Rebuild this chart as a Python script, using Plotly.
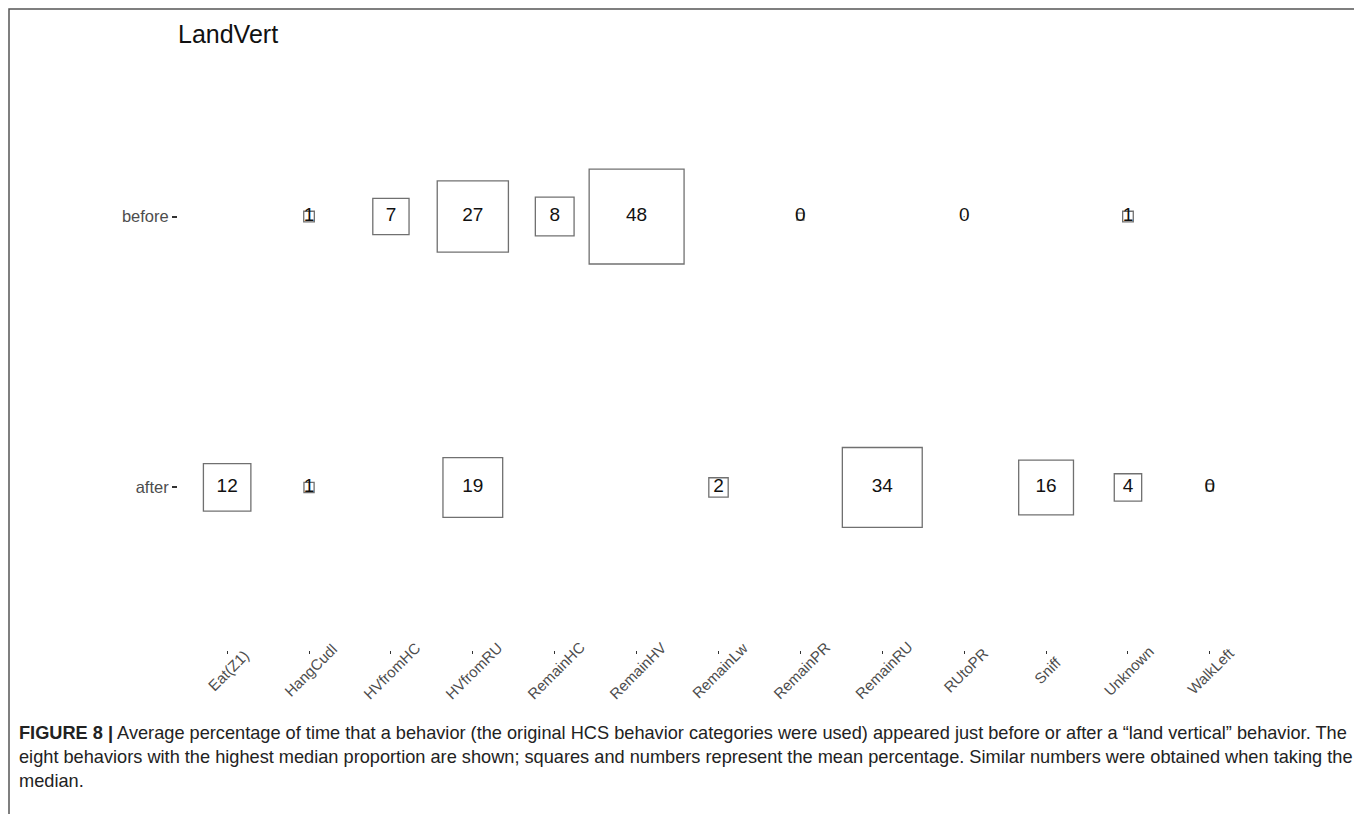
import math
import plotly.graph_objects as go

behaviors = ["Eat(Z1)", "HangCudl", "HVfromHC", "HVfromRU", "RemainHC", "RemainHV",
             "RemainLw", "RemainPR", "RemainRU", "RUtoPR", "Sniff", "Unknown", "WalkLeft"]
rows = ["after", "before"]

# mean percentage (None = behavior not among the eight shown)
before_vals = [None, 0.6, 7, 27, 8, 48, None, 0.25, None, 0.0, None, 0.6, None]
after_vals = [12, 0.55, None, 19, None, None, 2, None, 34, None, 16, 4, 0.25]

title_text = "LandVert"
caption_lines = [
    "<b>FIGURE 8 |</b> Average percentage of time that a behavior (the original HCS behavior categories were used) appeared just before or after a \u201cland vertical\u201d behavior. The",
    "eight behaviors with the highest median proportion are shown; squares and numbers represent the mean percentage. Similar numbers were obtained when taking the",
    "median.",
]

PX_PER_SQRT = 13.7  # square side (px) per sqrt(percentage)

OFF = 8  # page body margin
W, H = 1362 - OFF, 814 - OFF
L, T = 178 - OFF, 54 - OFF
R = W - (1259 - OFF)
B = H - (650 - OFF)
pw, ph = W - L - R, H - T - B


def px_x(px):
    # px given in screenshot coordinates
    return (px - OFF - L) / pw


def px_y(py):
    return (H - B - (py - OFF)) / ph


FONT = "Liberation Sans, Arial, sans-serif"

fig = go.Figure()
for row, vals in (("before", before_vals), ("after", after_vals)):
    xs, ys, sizes, labels = [], [], [], []
    for b, v in zip(behaviors, vals):
        if v is None:
            continue
        xs.append(b)
        ys.append(row)
        sizes.append(max(PX_PER_SQRT * math.sqrt(v), 0.01))
        labels.append(str(int(math.floor(v + 0.5))))
    fig.add_trace(go.Scatter(
        x=xs, y=ys, mode="markers+text", text=labels,
        textposition="middle center",
        textfont=dict(family=FONT, size=19, color="#111111"),
        marker=dict(symbol="square-open", size=sizes, color="#333333",
                    line=dict(width=1.3, color="#333333")),
        showlegend=False, hoverinfo="skip", cliponaxis=False,
    ))

fig.update_xaxes(
    type="category", categoryorder="array", categoryarray=behaviors,
    range=[-0.6, len(behaviors) - 0.4],
    showgrid=False, zeroline=False, showline=False,
    ticks="outside", ticklen=3, tickwidth=1.2, tickcolor="#333333",
    showticklabels=False,
)
fig.update_yaxes(
    type="category", categoryorder="array", categoryarray=rows,
    range=[-0.6, len(rows) - 0.4],
    showgrid=False, zeroline=False, showline=False,
    ticks="outside", ticklen=5, tickwidth=1.8, tickcolor="#333333",
    tickfont=dict(family=FONT, size=16.5, color="#4d4d4d"),
)

annotations = [
    dict(text=title_text, xref="paper", yref="paper", x=px_x(176), y=px_y(34),
         xanchor="left", yanchor="middle", showarrow=False,
         font=dict(family=FONT, size=25, color="#111111")),
]
# rotated category labels, centred under each tick (as in the original)
for b in behaviors:
    annotations.append(dict(
        text=b, xref="x", yref="paper", x=b, y=px_y(670),
        xanchor="center", yanchor="middle", textangle=-45, showarrow=False,
        xshift=1,
        font=dict(family=FONT, size=15, color="#4d4d4d"),
    ))
for i, line in enumerate(caption_lines):
    annotations.append(dict(
        text=line, xref="paper", yref="paper", x=px_x(17), y=px_y(733 + 24 * i),
        xanchor="left", yanchor="middle", showarrow=False, align="left",
        font=dict(family=FONT, size=18.2, color="#222222"),
    ))

shapes = [
    dict(type="path", xref="paper", yref="paper",
         path=(f"M {px_x(OFF + 1)} {px_y(830)} L {px_x(OFF + 1)} {px_y(OFF + 1)} "
               f"L {px_x(1356)} {px_y(OFF + 1)} L {px_x(1356)} {px_y(830)}"),
         line=dict(color="#555555", width=1.5)),
]

fig.update_layout(
    width=W, height=H,
    margin=dict(l=L, r=R, t=T, b=B, autoexpand=False),
    paper_bgcolor="white", plot_bgcolor="white",
    annotations=annotations, shapes=shapes,
)

fig.write_html("out.html")
